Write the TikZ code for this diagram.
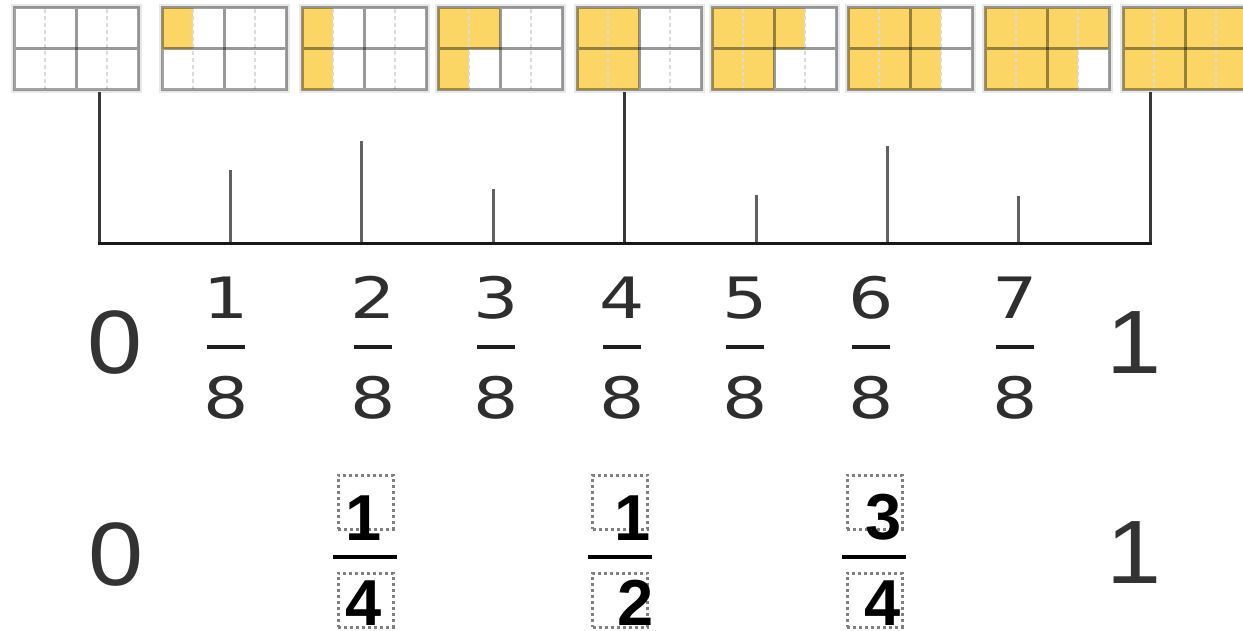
\documentclass[tikz,border=0pt]{standalone}
\usepackage{fontspec}
\newfontfamily\bigf[FakeStretch=1.1]{Liberation Sans}
\newfontfamily\fracf[FakeStretch=1.25]{DejaVu Sans}
\newfontfamily\boldf{Liberation Sans}
\definecolor{yel}{HTML}{FBD664}
\begin{document}
\begin{tikzpicture}[x=1pt,y=-1pt,
  halo/.style={draw=black!9,line width=7pt},
  border/.style={draw=black,draw opacity=0.36,line width=3pt},
  gridline/.style={draw=black,draw opacity=0.40,line width=3pt},
  quarter/.style={draw=black!14,line width=2.5pt,dash pattern=on 4pt off 3pt},
  axisline/.style={draw=black!90,line width=3pt},
  tickline/.style={draw=black!62,line width=3pt},
  longtick/.style={draw=black!78,line width=3pt},
  bignum/.style={anchor=base,inner sep=0pt,text=black!80,font=\bigf\fontsize{90}{90}\selectfont},
  fracnum/.style={anchor=base,inner sep=0pt,text=black!82,font=\fracf\fontsize{57}{57}\selectfont},
  boldnum/.style={anchor=base,inner sep=0pt,text=black,font=\boldf\bfseries\fontsize{65}{65}\selectfont},
  fracbar/.style={draw=black!88,line width=4pt},
  boldbar/.style={draw=black,line width=4pt},
  slot/.style={draw=black!50,line width=3pt,dash pattern=on 3pt off 3pt,minimum width=55pt,minimum height=54pt,inner sep=0pt}
]
\useasboundingbox (0,0) rectangle (1243,631);
\fill[white] (0,0) rectangle (1243,631);

% fraction grids
\foreach \i/\l in {0/14,1/162,2/302,3/438,4/577,5/712,6/848,7/985,8/1123}{
  \draw[halo] (\l,8) rectangle (\l+124,90);
  \fill[white] (\l,8) rectangle (\l+124,90);
  \ifnum\i>0
    \foreach \c in {1,...,\i}{
      \pgfmathtruncatemacro\col{(\c-1)/2}
      \pgfmathtruncatemacro\row{mod(\c-1,2)}
      \fill[yel] (\l+\col*31,8+\row*41) rectangle ++(31,41);
    }
  \fi
  \draw[quarter] (\l+31,9) -- (\l+31,89);
  \draw[quarter] (\l+93,9) -- (\l+93,89);
  \draw[gridline] (\l+62,9.5) -- (\l+62,88.5);
  \draw[gridline] (\l+1.5,49) -- (\l+122.5,49);
  \draw[border] (\l,8) rectangle (\l+124,90);
}

% number line
\foreach \k/\top in {0/92,1/170,2/141,3/189,4/92,5/195,6/146,7/196,8/92}{
  \coordinate (a\k) at ({99+\k*131.4},244);
  \coordinate (t\k) at ({99+\k*131.4},\top);
}
\foreach \k in {1,2,3,5,6,7}{\draw[tickline] (a\k) -- (t\k);}
\foreach \k in {0,4,8}{\draw[longtick] (a\k) -- (t\k);}
\draw[axisline,line cap=rect] (a0) -- (a8);

% first label row
\node[bignum] (zeroA) at (115,373) {0};
\node[bignum] (oneA) at (1134,373) {1};
\foreach \k/\x in {1/226,2/373,3/496,4/622,5/745,6/871,7/1015}{
  \node[fracnum] (n\k) at (\x,318) {\k};
  \node[fracnum] (d\k) at (\x,418) {8};
  \draw[fracbar] (\x-19,347) -- (\x+19,347);
}

% second label row
\node[bignum] (zeroB) at (116,585) {0};
\node[bignum] (oneB) at (1134,583) {1};

\node[slot] (sn1) at (365.5,502) {};
\node[slot] (sd1) at (365.5,600) {};
\node[slot] (sn2) at (620,502) {};
\node[slot] (sd2) at (620,600) {};
\node[slot] (sn3) at (874.5,502) {};
\node[slot] (sd3) at (874.5,600) {};

\draw[boldbar] (333,557) -- (397,557);
\draw[boldbar] (588,557) -- (652,557);
\draw[boldbar] (842,557) -- (906,557);

\node[boldnum] (bn1) at (364,540) {1};
\node[boldnum] (bd1) at (364,625) {4};
\node[boldnum] (bn2) at (633,540) {1};
\node[boldnum] (bd2) at (636,625) {2};
\node[boldnum] (bn3) at (884,539) {3};
\node[boldnum] (bd3) at (883,625) {4};
\end{tikzpicture}
\end{document}
